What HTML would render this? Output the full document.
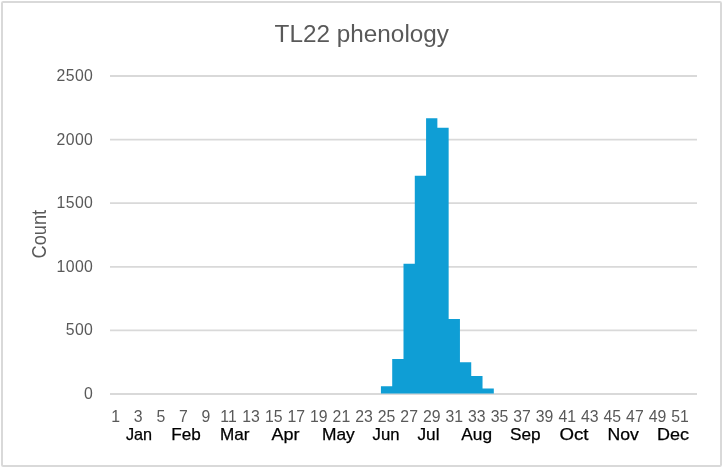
<!DOCTYPE html>
<html lang="en">
<head>
<meta charset="utf-8">
<title>TL22 phenology</title>
<style>
html,body{margin:0;padding:0;background:#fff;}
body{width:723px;height:468px;overflow:hidden;}
svg{display:block;}
text{font-family:"Liberation Sans",sans-serif;}
.ax{font-size:15.8px;fill:#595959;}
.yl{font-size:15.8px;fill:#595959;letter-spacing:0.4px;}
.ct{font-size:20px;fill:#595959;}
.mo{font-size:16.4px;fill:#000;stroke:#000;stroke-width:0.25px;}
.ti{font-size:23.5px;fill:#595959;}
</style>
</head>
<body>
<svg width="723" height="468" viewBox="0 0 723 468">
<rect x="0" y="0" width="723" height="468" fill="#fff"/>
<rect x="2" y="2" width="719" height="464" fill="#fff" stroke="#d9d9d9" stroke-width="2" rx="1.2"/>

<line x1="110.0" x2="697.0" y1="394.00" y2="394.00" stroke="#d9d9d9" stroke-width="1.8"/>
<line x1="110.0" x2="697.0" y1="330.40" y2="330.40" stroke="#d9d9d9" stroke-width="1.8"/>
<line x1="110.0" x2="697.0" y1="266.80" y2="266.80" stroke="#d9d9d9" stroke-width="1.8"/>
<line x1="110.0" x2="697.0" y1="203.20" y2="203.20" stroke="#d9d9d9" stroke-width="1.8"/>
<line x1="110.0" x2="697.0" y1="139.60" y2="139.60" stroke="#d9d9d9" stroke-width="1.8"/>
<line x1="110.0" x2="697.0" y1="76.00" y2="76.00" stroke="#d9d9d9" stroke-width="1.8"/>
<path d="M380.92 393.60 L380.92 386.24 L392.21 386.24 L392.21 359.02 L403.50 359.02 L403.50 263.75 L414.79 263.75 L414.79 175.85 L426.08 175.85 L426.08 118.23 L437.37 118.23 L437.37 127.77 L448.65 127.77 L448.65 318.95 L459.94 318.95 L459.94 362.20 L471.23 362.20 L471.23 376.06 L482.52 376.06 L482.52 388.53 L493.81 388.53 L493.81 393.60 Z" fill="#0f9ed5"/>
<text class="yl" x="93.3" y="399.00" text-anchor="end">0</text>
<text class="yl" x="93.3" y="335.40" text-anchor="end">500</text>
<text class="yl" x="93.3" y="271.80" text-anchor="end">1000</text>
<text class="yl" x="93.3" y="208.20" text-anchor="end">1500</text>
<text class="yl" x="93.3" y="144.60" text-anchor="end">2000</text>
<text class="yl" x="93.3" y="81.00" text-anchor="end">2500</text>
<text class="ax" x="115.64" y="421.7" text-anchor="middle">1</text>
<text class="ax" x="138.22" y="421.7" text-anchor="middle">3</text>
<text class="ax" x="160.80" y="421.7" text-anchor="middle">5</text>
<text class="ax" x="183.38" y="421.7" text-anchor="middle">7</text>
<text class="ax" x="205.95" y="421.7" text-anchor="middle">9</text>
<text class="ax" x="228.53" y="421.7" text-anchor="middle">11</text>
<text class="ax" x="251.11" y="421.7" text-anchor="middle">13</text>
<text class="ax" x="273.68" y="421.7" text-anchor="middle">15</text>
<text class="ax" x="296.26" y="421.7" text-anchor="middle">17</text>
<text class="ax" x="318.84" y="421.7" text-anchor="middle">19</text>
<text class="ax" x="341.41" y="421.7" text-anchor="middle">21</text>
<text class="ax" x="363.99" y="421.7" text-anchor="middle">23</text>
<text class="ax" x="386.57" y="421.7" text-anchor="middle">25</text>
<text class="ax" x="409.14" y="421.7" text-anchor="middle">27</text>
<text class="ax" x="431.72" y="421.7" text-anchor="middle">29</text>
<text class="ax" x="454.30" y="421.7" text-anchor="middle">31</text>
<text class="ax" x="476.88" y="421.7" text-anchor="middle">33</text>
<text class="ax" x="499.45" y="421.7" text-anchor="middle">35</text>
<text class="ax" x="522.03" y="421.7" text-anchor="middle">37</text>
<text class="ax" x="544.61" y="421.7" text-anchor="middle">39</text>
<text class="ax" x="567.18" y="421.7" text-anchor="middle">41</text>
<text class="ax" x="589.76" y="421.7" text-anchor="middle">43</text>
<text class="ax" x="612.34" y="421.7" text-anchor="middle">45</text>
<text class="ax" x="634.91" y="421.7" text-anchor="middle">47</text>
<text class="ax" x="657.49" y="421.7" text-anchor="middle">49</text>
<text class="ax" x="680.07" y="421.7" text-anchor="middle">51</text>
<text class="mo" x="125.90" y="440" textLength="26.20" lengthAdjust="spacingAndGlyphs">Jan</text>
<text class="mo" x="171.30" y="440" textLength="29.50" lengthAdjust="spacingAndGlyphs">Feb</text>
<text class="mo" x="220.00" y="440" textLength="29.50" lengthAdjust="spacingAndGlyphs">Mar</text>
<text class="mo" x="271.50" y="440" textLength="28.00" lengthAdjust="spacingAndGlyphs">Apr</text>
<text class="mo" x="322.00" y="440" textLength="32.80" lengthAdjust="spacingAndGlyphs">May</text>
<text class="mo" x="372.60" y="440" textLength="26.90" lengthAdjust="spacingAndGlyphs">Jun</text>
<text class="mo" x="417.50" y="440" textLength="22.00" lengthAdjust="spacingAndGlyphs">Jul</text>
<text class="mo" x="461.30" y="440" textLength="30.70" lengthAdjust="spacingAndGlyphs">Aug</text>
<text class="mo" x="510.00" y="440" textLength="30.60" lengthAdjust="spacingAndGlyphs">Sep</text>
<text class="mo" x="559.40" y="440" textLength="29.00" lengthAdjust="spacingAndGlyphs">Oct</text>
<text class="mo" x="607.40" y="440" textLength="31.40" lengthAdjust="spacingAndGlyphs">Nov</text>
<text class="mo" x="657.10" y="440" textLength="32.00" lengthAdjust="spacingAndGlyphs">Dec</text>
<text class="ti" x="274.6" y="42" textLength="174.4" lengthAdjust="spacingAndGlyphs">TL22 phenology</text>
<text class="ct" transform="translate(45.6,258.5) rotate(-90)" textLength="48.6" lengthAdjust="spacingAndGlyphs">Count</text>
</svg>
</body>
</html>
